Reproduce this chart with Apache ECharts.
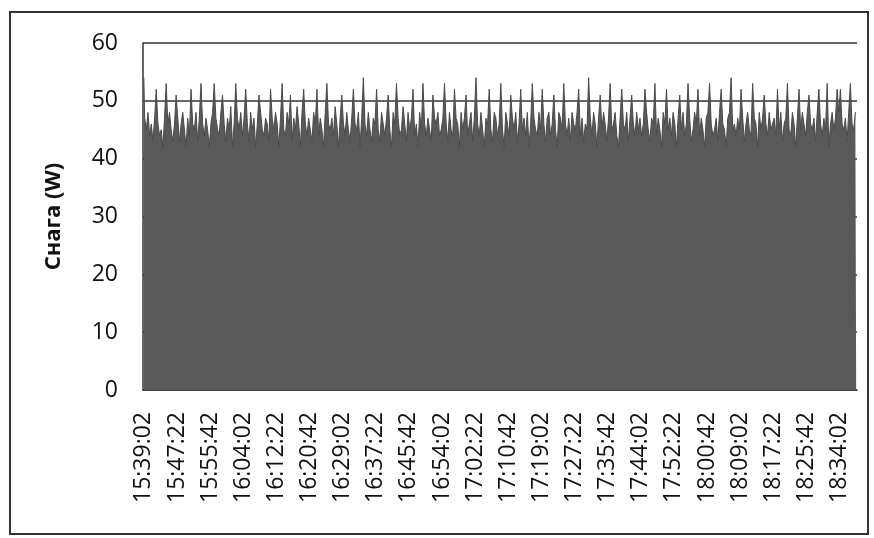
<!DOCTYPE html>
<html>
<head>
<meta charset="utf-8">
<script src="https://cdn.jsdelivr.net/npm/echarts@6/dist/echarts.min.js"></script>
<style>html,body{margin:0;padding:0;background:#fff}#c{width:874px;height:538px}</style>
</head>
<body>
<div id="c"></div>
<script>
var startTime = "15:39:02";
var stepSeconds = 25;
var tickLabels = ["15:39:02","15:47:22","15:55:42","16:04:02","16:12:22","16:20:42","16:29:02","16:37:22","16:45:42","16:54:02","17:02:22","17:10:42","17:19:02","17:27:22","17:35:42","17:44:02","17:52:22","18:00:42","18:09:02","18:17:22","18:25:42","18:34:02"];
var power = [
54,47,45,48,44,46,43,47,52,46,44,45,42,47,53,46,48,45,43,46,
51,47,43,46,48,45,42,47,44,52,46,45,48,43,47,53,46,44,47,45,
42,46,48,53,47,45,44,48,51,46,43,47,45,49,42,46,53,47,45,48,
44,47,52,46,43,48,45,47,42,46,51,48,45,44,47,46,43,52,47,45,
48,46,42,47,53,45,44,48,46,51,43,47,45,49,46,42,48,52,46,44,
47,45,43,48,46,52,44,47,45,42,48,53,46,45,47,44,49,46,42,47,
51,46,44,48,45,43,47,52,46,45,48,42,47,54,46,44,48,45,43,47,
46,52,45,43,48,46,44,47,51,45,42,48,46,53,47,44,45,49,46,43,
48,45,47,52,44,46,42,48,45,53,46,44,47,45,43,51,47,46,48,44,
45,47,53,46,43,48,45,44,52,47,46,42,48,45,47,51,44,46,48,43,
47,54,46,44,48,45,42,47,46,52,45,43,48,47,44,46,53,45,42,48,
46,44,51,47,45,48,43,46,52,45,47,44,48,42,46,53,47,45,44,48,
45,52,46,43,47,48,44,46,51,45,42,48,47,45,53,46,44,47,43,48,
46,45,48,52,44,47,43,46,45,54,47,44,48,46,42,47,51,45,48,46,
43,47,53,45,46,48,44,42,47,52,46,45,48,43,47,51,46,44,48,45,
47,44,46,52,48,45,43,47,46,53,44,47,45,42,48,46,52,45,47,44,
48,46,42,47,51,45,48,44,46,53,47,43,45,48,46,52,44,47,45,42,
47,48,53,46,44,45,47,43,48,52,46,45,42,47,48,54,45,46,44,47,
45,52,47,43,46,48,45,44,53,47,46,42,48,45,47,51,46,44,48,45,
46,47,44,52,45,48,43,46,47,53,45,44,48,46,42,47,52,45,48,46,
44,48,51,46,45,47,43,48,52,46,44,47,45,53,42,46,48,45,47,52,
48,52,46,45,47,43,48,53,46,45,48
];

function pad(n){return (n<10?'0':'')+n;}
var p = startTime.split(':').map(Number);
var t0 = p[0]*3600+p[1]*60+p[2];
var categories = power.map(function(v,i){
  var s = t0 + i*stepSeconds;
  return pad(Math.floor(s/3600))+':'+pad(Math.floor(s/60)%60)+':'+pad(s%60);
});

var chart = echarts.init(document.getElementById('c'), null, {renderer:'canvas'});
chart.setOption({
  backgroundColor:'#fff',
  animation:false,
  grid:{left:143, top:43, right:17, bottom:148, containLabel:false},
  graphic:[{type:'rect', shape:{x:10,y:12,width:858,height:522}, style:{fill:'none', stroke:'#333', lineWidth:2}, z:-1}],
  xAxis:{
    type:'category', data:categories, boundaryGap:true,
    axisLine:{show:true, lineStyle:{color:'#333', width:1.5}},
    axisTick:{show:false},
    axisLabel:{
      interval:19, rotate:90, margin:22, color:'#111',
      fontFamily:'Open Sans', fontSize:23,
      formatter:function(v){return tickLabels.indexOf(v)>=0 ? v : '';}
    },
    splitLine:{show:false}
  },
  yAxis:{
    type:'value', min:0, max:60, interval:10,
    name:'Снага (W)', nameLocation:'middle', nameGap:78,
    nameTextStyle:{fontFamily:'Open Sans', fontWeight:'bold', fontSize:22, color:'#111'},
    axisLine:{show:true, lineStyle:{color:'#333', width:1.5}},
    axisTick:{show:false},
    axisLabel:{margin:25, color:'#111', fontFamily:'Open Sans', fontSize:23},
    splitLine:{show:true, lineStyle:{color:'#333', width:1.5}}
  },
  series:[{
    type:'line', data:power, step:'middle', showSymbol:false, symbol:'none',
    lineStyle:{color:'#4a4a4a', width:1},
    areaStyle:{color:'#595959', opacity:1}, z:2
  }]
});
</script>
</body>
</html>
